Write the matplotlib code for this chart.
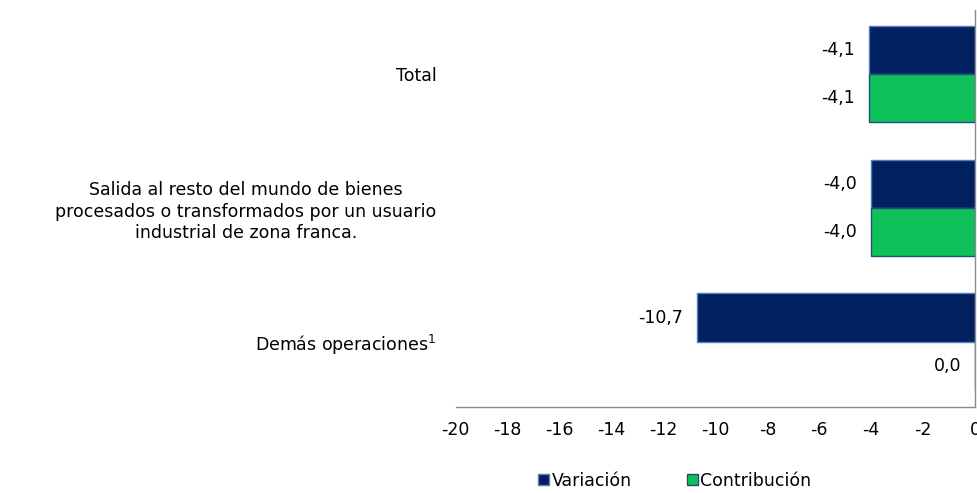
import matplotlib
matplotlib.use('Agg')
import matplotlib.pyplot as plt
import numpy as np

categories = ['Total',
              'Salida al resto del mundo de bienes\nprocesados o transformados por un usuario\nindustrial de zona franca.',
              'Demás operaciones$^{1}$']
variacion = [-4.1, -4.0, -10.7]
contribucion = [-4.1, -4.0, 0.0]
series_names = ['Variación', 'Contribución']
xticks = list(range(-20, 1, 2))

NAVY = '#002060'
GREEN = '#0FC15A'

plt.rcParams['font.family'] = ['DejaVu Sans']
plt.rcParams['mathtext.fontset'] = 'dejavusans'

FS = 12.5

fig = plt.figure(figsize=(9.78, 4.93), dpi=100)
ax = fig.add_axes([0.466, 0.174, 0.531, 0.806])

y = np.arange(len(categories))
h = 0.36
b1 = ax.barh(y - h / 2, variacion, height=h, color=NAVY, edgecolor='#4F7FBF', linewidth=1.0, label=series_names[0])
b2 = ax.barh(y + h / 2, contribucion, height=h, color=GREEN, edgecolor='#1F4E79', linewidth=1.0, label=series_names[1])

for bars, vals in ((b1, variacion), (b2, contribucion)):
    for bar, v in zip(bars, vals):
        ax.annotate(f'{v:.1f}'.replace('.', ','), (v, bar.get_y() + bar.get_height() / 2),
                    xytext=(-10, 0), textcoords='offset points', ha='right', va='center',
                    fontsize=FS, color='black')

ax.set_xlim(-20, 0)
ax.set_ylim(len(categories) - 0.51, -0.48)
ax.set_xticks(xticks)
ax.set_xticklabels([str(t) for t in xticks], fontsize=FS)
ax.set_yticks(y)
ax.set_yticklabels(categories, fontsize=FS, ha='right', multialignment='center', linespacing=1.25)
ax.tick_params(axis='x', length=0, pad=10)
ax.tick_params(axis='y', length=0, pad=14)

for s in ('left', 'top'):
    ax.spines[s].set_visible(False)
for s in ('right', 'bottom'):
    ax.spines[s].set_color('#8C8C8C')
    ax.spines[s].set_linewidth(1.0)

leg = fig.legend(handles=[b1, b2], labels=series_names, loc='center', bbox_to_anchor=(0.69, 0.025),
                 ncol=2, frameon=False, fontsize=FS, handlelength=0.6, handleheight=0.6,
                 handletextpad=0.15, columnspacing=3.2)

fig.savefig('out.png', dpi=100, facecolor='white')
plt.close(fig)
